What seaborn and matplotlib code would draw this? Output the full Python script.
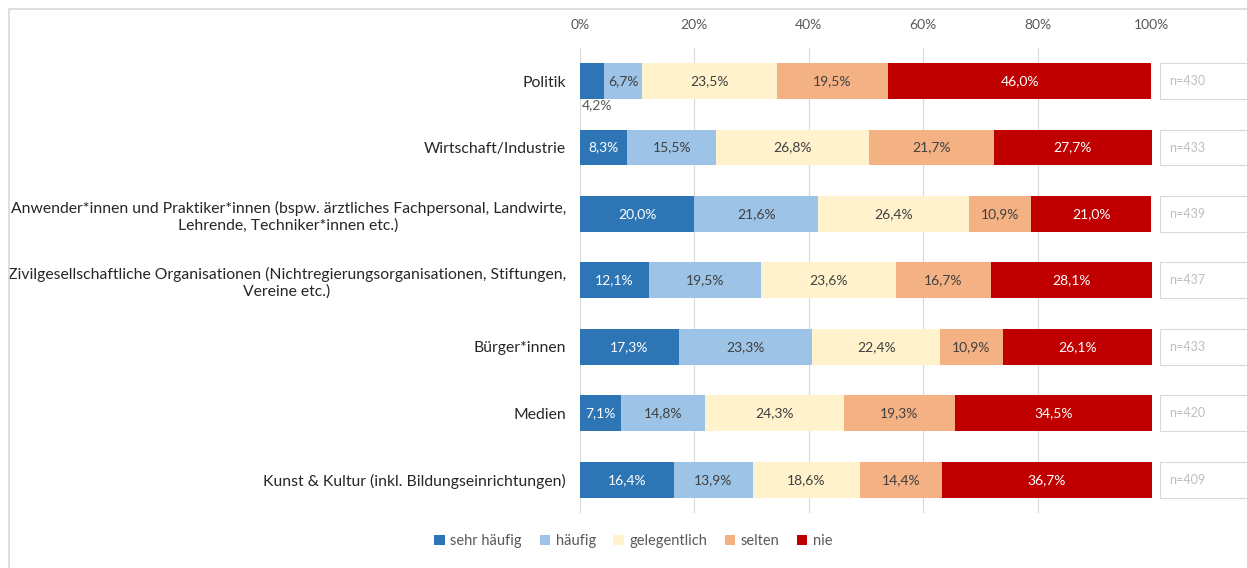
import numpy as np
import pandas as pd
import matplotlib
matplotlib.use("Agg")
import matplotlib.pyplot as plt
from matplotlib.patches import Rectangle
import seaborn as sns


#%% Data
categories = ["Politik",
              "Wirtschaft/Industrie",
              "Anwender*innen und Praktiker*innen (bspw. ärztliches Fachpersonal, Landwirte,\nLehrende, Techniker*innen etc.)",
              "Zivilgesellschaftliche Organisationen (Nichtregierungsorganisationen, Stiftungen,\nVereine etc.)",
              "Bürger*innen",
              "Medien",
              "Kunst & Kultur (inkl. Bildungseinrichtungen)"]

series_names = ["sehr häufig", "häufig", "gelegentlich", "selten", "nie"]

sehr_haeufig = [4.2, 8.3, 20.0, 12.1, 17.3, 7.1, 16.4]
haeufig      = [6.7, 15.5, 21.6, 19.5, 23.3, 14.8, 13.9]
gelegentlich = [23.5, 26.8, 26.4, 23.6, 22.4, 24.3, 18.6]
selten       = [19.5, 21.7, 10.9, 16.7, 10.9, 19.3, 14.4]
nie          = [46.0, 27.7, 21.0, 28.1, 26.1, 34.5, 36.7]

n_values = [430, 433, 439, 437, 433, 420, 409]

xticks = [0, 20, 40, 60, 80, 100]


#%% Style
Colors      = ["#2E75B6", "#9DC3E6", "#FFF2CC", "#F4B183", "#C00000"]
TextColors  = ["white", "#404040", "#404040", "#404040", "white"]
FontName    = "Lato"
FontSize_Bar    = 10
FontSize_Cat    = 11.3
FontSize_Tick   = 10
Bar_Width   = 0.54

plt.rcParams['font.family'] = [FontName, "DejaVu Sans"]

df = pd.DataFrame({"cat": categories})
vals = np.array([sehr_haeufig, haeufig, gelegentlich, selten, nie])
cum = np.cumsum(vals, axis=0)

Fig = plt.figure(figsize=[12.47, 5.68], dpi=100)
ax = plt.axes([0.4651, 0.0968, 0.4587, 0.819])

# stacked bars: draw cumulative totals from the back to the front
for i in range(len(series_names) - 1, -1, -1):
    df["val"] = cum[i]
    sns.barplot(ax=ax, data=df, x="val", y="cat", orient="h",
                color=Colors[i], width=Bar_Width, saturation=1,
                edgecolor="none", linewidth=0, label=series_names[i])

# segment labels
for r in range(len(categories)):
    left = 0
    for i in range(len(series_names)):
        v = vals[i, r]
        txt = ("%.1f%%" % v).replace(".", ",")
        if v < 5:
            ax.text(left + 0.3, r + 0.36, txt, ha="left", va="center",
                    fontsize=FontSize_Bar, color="#595959")
        else:
            ax.text(left + v / 2, r, txt, ha="center", va="center",
                    fontsize=FontSize_Bar, color=TextColors[i])
        left += v

    # n boxes
    ax.add_patch(Rectangle((101.4, r - Bar_Width / 2), 16, Bar_Width,
                           facecolor="white", edgecolor="#D9D9D9",
                           linewidth=0.8, clip_on=False))
    ax.text(103.0, r, "n=%d" % n_values[r], ha="left", va="center",
            fontsize=9, color="#BFBFBF")

# axes
ax.set_xlim(0, 100)
ax.set_ylim(len(categories) - 0.5, -0.5)
ax.set_xticks(xticks)
ax.set_xticklabels(["%d%%" % t for t in xticks], fontsize=FontSize_Tick,
                   color="#595959")
ax.xaxis.tick_top()
ax.set_yticks(range(len(categories)))
ax.set_yticklabels(categories, fontsize=FontSize_Cat, color="#262626")
for tick in ax.yaxis.get_major_ticks():
    tick.label1.set_multialignment("center")
ax.set_xlabel("")
ax.set_ylabel("")
ax.tick_params(axis="x", length=0, pad=12)
ax.tick_params(axis="y", length=0, pad=10)
ax.grid(axis="x", color="#D9D9D9", linewidth=0.8)
ax.set_axisbelow(True)
for s in ax.spines.values():
    s.set_visible(False)

# legend
handles, labels = ax.get_legend_handles_labels()
order = [labels.index(n) for n in series_names]
ax.legend([handles[k] for k in order], [labels[k] for k in order],
          loc="center", bbox_to_anchor=(0.508, 0.047),
          bbox_transform=Fig.transFigure, ncol=5, frameon=False,
          fontsize=10.5, handlelength=0.7, handleheight=0.7,
          handletextpad=0.4, columnspacing=1.2, labelcolor="#595959")

# outer frame
Fig.add_artist(Rectangle((0.0075, -0.05), 1.1, 1.034, transform=Fig.transFigure,
                         facecolor="none", edgecolor="#D9D9D9", linewidth=1.2))

plt.savefig("out.png", dpi=100)
